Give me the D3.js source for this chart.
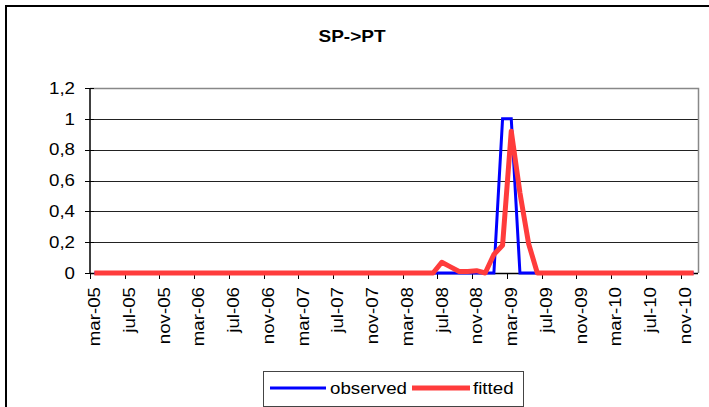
<!DOCTYPE html>
<html>
<head>
<meta charset="utf-8">
<script src="https://cdn.jsdelivr.net/npm/d3@7"></script>
<style>
  html, body { margin: 0; padding: 0; background: #fff; }
  svg { display: block; font-family: "Liberation Sans", Arial, sans-serif; }
</style>
</head>
<body>
<svg id="chart" width="709" height="407"></svg>
<script>
const title = "SP->PT";
const months = [
  "mar-05","apr-05","may-05","jun-05","jul-05","aug-05","sep-05","oct-05","nov-05","dec-05",
  "jan-06","feb-06","mar-06","apr-06","may-06","jun-06","jul-06","aug-06","sep-06","oct-06","nov-06","dec-06",
  "jan-07","feb-07","mar-07","apr-07","may-07","jun-07","jul-07","aug-07","sep-07","oct-07","nov-07","dec-07",
  "jan-08","feb-08","mar-08","apr-08","may-08","jun-08","jul-08","aug-08","sep-08","oct-08","nov-08","dec-08",
  "jan-09","feb-09","mar-09","apr-09","may-09","jun-09","jul-09","aug-09","sep-09","oct-09","nov-09","dec-09",
  "jan-10","feb-10","mar-10","apr-10","may-10","jun-10","jul-10","aug-10","sep-10","oct-10","nov-10","dec-10"
];
const observed = [
  0,0,0,0,0,0,0,0,0,0,
  0,0,0,0,0,0,0,0,0,0,
  0,0,0,0,0,0,0,0,0,0,
  0,0,0,0,0,0,0,0,0,0,
  0,0,0,0,0,0,0,1,1,0,
  0,0,0,0,0,0,0,0,0,0,
  0,0,0,0,0,0,0,0,0,0
];
const fitted = [
  0,0,0,0,0,0,0,0,0,0,
  0,0,0,0,0,0,0,0,0,0,
  0,0,0,0,0,0,0,0,0,0,
  0,0,0,0,0,0,0,0,0,0,
  0.07,0.04,0.01,0.01,0.015,0,0.12,0.18,0.92,0.52,
  0.19,0,0,0,0,0,0,0,0,0,
  0,0,0,0,0,0,0,0,0,0
];
const yTicks = [0, 0.2, 0.4, 0.6, 0.8, 1, 1.2];
const yTickLabels = ["0", "0,2", "0,4", "0,6", "0,8", "1", "1,2"];
const labelEvery = 4;
const seriesNames = ["observed", "fitted"];
const seriesColors = ["#0000ff", "#ff3c3c"];

const svg = d3.select("#chart");
const plot = { left: 90, right: 698, top: 88, bottom: 273 };
const stretch = 1.17;

const x = d3.scaleBand().domain(months).range([plot.left, plot.right]).padding(0);
const y = d3.scaleLinear().domain([0, 1.2]).range([plot.bottom, plot.top]);

// outer chart border (top and left)
svg.append("path")
  .attr("d", "M6,409 L6,6 L711,6")
  .attr("fill", "none").attr("stroke", "#000").attr("stroke-width", 2);

// title
svg.append("text")
  .attr("transform", "translate(352,42) scale(1.12,1)")
  .attr("text-anchor", "middle")
  .attr("font-weight", "bold")
  .attr("font-size", 17)
  .text(title);

// gridlines
svg.append("g").selectAll("line")
  .data(yTicks.filter(d => d > 0 && d < 1.2))
  .join("line")
  .attr("x1", plot.left).attr("x2", plot.right)
  .attr("y1", d => Math.round(y(d)) + 0.5).attr("y2", d => Math.round(y(d)) + 0.5)
  .attr("stroke", "#222").attr("stroke-width", 1);

// plot area border top & right (gray)
svg.append("path")
  .attr("d", `M${plot.left},${plot.top + 0.5} L${plot.right + 0.5},${plot.top + 0.5} L${plot.right + 0.5},${plot.bottom}`)
  .attr("fill", "none").attr("stroke", "#888").attr("stroke-width", 1.5);

// y axis
svg.append("line")
  .attr("x1", plot.left).attr("x2", plot.left)
  .attr("y1", plot.top).attr("y2", plot.bottom)
  .attr("stroke", "#000").attr("stroke-width", 1.5);
svg.append("g").selectAll("line")
  .data(yTicks).join("line")
  .attr("x1", plot.left - 5).attr("x2", plot.left + 4)
  .attr("y1", d => Math.round(y(d)) + 0.5).attr("y2", d => Math.round(y(d)) + 0.5)
  .attr("stroke", "#000").attr("stroke-width", 1);
svg.append("g").selectAll("text")
  .data(yTicks).join("text")
  .attr("transform", d => `translate(75,${y(d)}) scale(${stretch},1)`)
  .attr("text-anchor", "end")
  .attr("dy", "0.36em")
  .attr("font-size", 16)
  .text((d, i) => yTickLabels[i]);

// x axis
svg.append("line")
  .attr("x1", plot.left).attr("x2", plot.right)
  .attr("y1", plot.bottom + 0.5).attr("y2", plot.bottom + 0.5)
  .attr("stroke", "#000").attr("stroke-width", 1.5);
const labeled = months.filter((m, i) => i % labelEvery === 0);
svg.append("g").selectAll("line")
  .data(labeled).join("line")
  .attr("x1", d => Math.round(x(d)) + 0.5).attr("x2", d => Math.round(x(d)) + 0.5)
  .attr("y1", plot.bottom).attr("y2", plot.bottom + 6)
  .attr("stroke", "#000").attr("stroke-width", 1);
svg.append("g").selectAll("text")
  .data(labeled).join("text")
  .attr("transform", d => `translate(${x(d) + x.bandwidth() / 2},287) rotate(-90) scale(${stretch},1)`)
  .attr("text-anchor", "end")
  .attr("dy", "0.36em")
  .attr("font-size", 16)
  .text(d => d);

// series lines
const line = vals => d3.line()
  .x((d, i) => x(months[i]) + x.bandwidth() / 2)
  .y(d => y(d))(vals);

svg.append("path")
  .attr("d", line(observed))
  .attr("fill", "none").attr("stroke", seriesColors[0])
  .attr("stroke-width", 3).attr("stroke-linejoin", "miter");
svg.append("path")
  .attr("d", line(fitted))
  .attr("fill", "none").attr("stroke", seriesColors[1])
  .attr("stroke-width", 5).attr("stroke-linejoin", "round");

// legend
const lg = svg.append("g");
lg.append("rect")
  .attr("x", 263.5).attr("y", 371.5).attr("width", 260).attr("height", 35)
  .attr("fill", "#fff").attr("stroke", "#444").attr("stroke-width", 1);
lg.append("line").attr("x1", 270).attr("x2", 326).attr("y1", 388).attr("y2", 388)
  .attr("stroke", seriesColors[0]).attr("stroke-width", 3);
lg.append("text").attr("transform", `translate(330,388) scale(${stretch},1)`)
  .attr("dy", "0.36em").attr("font-size", 16).text(seriesNames[0]);
lg.append("line").attr("x1", 412).attr("x2", 470).attr("y1", 388).attr("y2", 388)
  .attr("stroke", seriesColors[1]).attr("stroke-width", 5);
lg.append("text").attr("transform", `translate(473,388) scale(${stretch},1)`)
  .attr("dy", "0.36em").attr("font-size", 16).text(seriesNames[1]);
</script>
</body>
</html>
